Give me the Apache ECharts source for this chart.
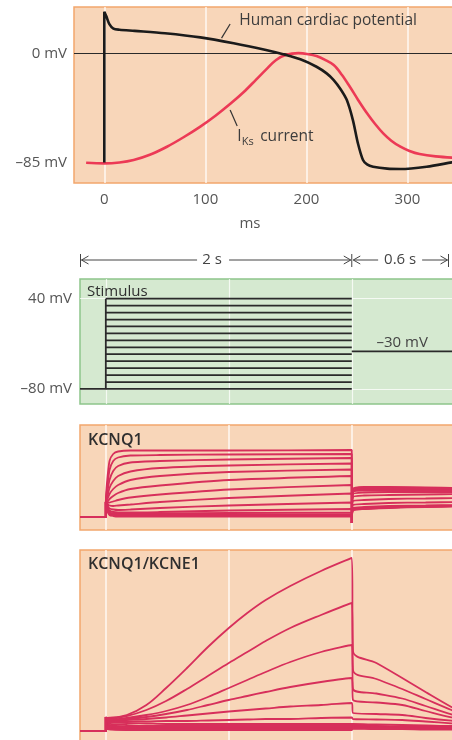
<!DOCTYPE html>
<html>
<head>
<meta charset="utf-8">
<script src="https://cdn.jsdelivr.net/npm/echarts@6/dist/echarts.min.js"></script>
<style>
html,body{margin:0;padding:0;background:#fff}
#chart{width:452px;height:740px}
</style>
</head>
<body>
<div id="chart"></div>
<script>
// ---- Panel A: human ventricular action potential and I_Ks (ms, mV) ----
const apMs = [0, 0, 2, 5, 9, 15, 30, 60, 95, 128, 160, 177, 194, 210, 220, 227, 234, 240, 246, 251, 256, 260, 266, 280, 293, 319, 344, 351];
const apMv = [-85, 32.6, 29, 23, 19.5, 18.6, 17.7, 15.8, 12.6, 8, 2.7, -0.6, -4.5, -10.3, -15.5, -20.7, -28, -36.3, -51.9, -70.1, -83.1, -86.5, -88.3, -89.8, -90.1, -88.3, -84.9, -84];
const iksMs = [-18, 0, 15, 29, 45, 62, 78, 95, 110, 125, 138, 150, 160, 170, 180, 192, 202, 210, 218, 227, 235, 243, 251, 260, 268, 276, 284, 293, 302, 312, 328, 351];
const iksMv = [-85.2, -85.7, -85, -83.1, -79, -72.7, -65.5, -57, -48.5, -39, -30, -20.5, -12.5, -5, -1, 0.3, -0.5, -2, -4.8, -9, -16.5, -25.9, -36, -46.6, -55, -62.3, -68, -72.7, -76, -78.4, -80.2, -81.5];
const msTicks = [0, 100, 200, 300];
const mvTicks = [0, -85];

// ---- Panel B: voltage-clamp protocol (s, mV) ----
const stepStart = 0;
const stepEnd = 2;
const restMv = -80;
const holdMv = -30;
const stepLevels = [40, 30.8, 21.5, 12.3, 3.1, -6.2, -15.4, -24.6, -33.8, -43.1, -52.3, -61.5, -70.8, -80];
const stimTicks = [40, -80];
const timeGrid = [0, 1, 2];

// ---- Panel C: KCNQ1 currents (arbitrary units) ----
const q1StepT = [0.01, 0.03, 0.06, 0.1, 0.2, 0.44, 1.0, 2.0];
const q1Step = [
  [35, 56, 63, 65.5, 66.5, 66.5, 66.5, 67],
  [28, 47, 56, 59.5, 61.5, 62, 62.5, 63],
  [23, 37, 46, 51, 54.5, 56, 57.5, 59],
  [19, 29, 36, 41, 45.5, 49, 51.5, 53.5],
  [17, 23, 28, 32, 37, 41, 45, 47.5],
  [15, 18, 21, 24, 28, 31.5, 37, 41],
  [14, 14.5, 15.5, 17, 19.5, 22.5, 27.5, 32],
  [13, 11.5, 11, 11.5, 12.5, 15, 19, 23.5],
  [12, 8.5, 7.5, 7, 7.5, 9, 11.5, 14.5],
  [11, 6.5, 5, 4.5, 4.5, 5, 6.5, 8],
  [10, 5, 3.5, 3, 3, 3.5, 4, 4.5],
  [9, 4, 3, 2.5, 2.5, 2.5, 2.5, 2.5],
  [8, 3, 2, 1.5, 1.5, 1.5, 1.5, 1.5],
  [7, 2, 1, 0.5, 0.5, 0.5, 0.5, 0.5]
];
const q1TailT = [2.01, 2.1, 2.3, 2.6, 2.88];
const q1Tail = [
  [28, 30, 30, 29.5, 29],
  [27.5, 29.5, 29.5, 29, 28.5],
  [27, 29, 29, 28.5, 28],
  [26, 27.5, 27.5, 27, 27],
  [25, 26.5, 26.5, 26.5, 26],
  [23, 24.5, 25, 25, 25],
  [20, 21.5, 22, 22.5, 23],
  [16, 17, 18, 18.5, 19],
  [12, 13, 14, 14.5, 15],
  [9, 10, 11, 11.5, 12],
  [8, 9, 10, 11, 11.5],
  [7, 8.5, 9.5, 10.5, 11],
  [7, 8, 9.5, 10.5, 11],
  [6.5, 8, 9, 10, 10.5]
];
const q1OnsetSpike = 15;
const q1OffsetSpike = -6;

// ---- Panel D: KCNQ1/KCNE1 currents (arbitrary units) ----
const e1StepT = [0.01, 0.17, 0.33, 0.49, 0.66, 0.83, 1.0, 1.15, 1.3, 1.5, 1.75, 2.0];
const e1Step = [
  [13, 16, 26, 43, 63, 84, 103, 118, 131, 145, 160, 173],
  [12, 15, 21, 30, 42, 55, 68, 79, 90, 103, 116, 128],
  [11, 13, 16, 20, 26, 34, 43, 51, 59, 69, 79, 86],
  [11, 12, 14, 17, 21, 26, 31, 35, 39, 44, 49, 53],
  [10, 11, 12, 13.5, 15.5, 17.5, 19.5, 21, 22.5, 24.5, 26, 28],
  [9.5, 9.5, 9.5, 10, 10, 10.5, 11, 11.5, 12, 12, 13, 13.5],
  [9, 8, 7.5, 7, 7, 7, 7, 7, 7, 7, 7, 7],
  [8, 6, 5, 5, 5, 5, 5, 5, 5, 5, 5, 5],
  [7, 4.5, 4, 4, 4, 4, 4, 4, 4, 4, 4, 4],
  [6, 3.5, 3, 3, 3, 3, 3, 3, 3, 3, 3, 3],
  [5, 3, 2.5, 2.5, 2.5, 2.5, 2.5, 2.5, 2.5, 2.5, 2.5, 2.5],
  [4, 2, 2, 2, 2, 2, 2, 2, 2, 2, 2, 2],
  [3, 1.5, 1.5, 1.5, 1.5, 1.5, 1.5, 1.5, 1.5, 1.5, 1.5, 1.5],
  [2, 1, 1, 1, 1, 1, 1, 1, 1, 1, 1, 1]
];
const e1TailT = [2.01, 2.2, 2.41, 2.6, 2.81, 2.88];
const e1Tail = [
  [80, 68, 53, 39, 24, 20],
  [61, 52, 42, 32, 21, 18],
  [42, 37.5, 32.5, 25, 16.7, 15],
  [31, 28.5, 26, 20, 13.7, 12.8],
  [18, 17, 16, 13, 10.3, 9.8],
  [12, 11.5, 11, 9.5, 7.7, 7.3],
  [7, 6.5, 6, 5.5, 5, 5],
  [5.5, 5, 4.5, 4.5, 4, 4],
  [5, 4.5, 4, 4, 3.5, 3.5],
  [4.5, 4, 3.5, 3.5, 3, 3],
  [4, 3.5, 3, 3, 3, 3],
  [3.5, 3, 3, 2.5, 2.5, 2.5],
  [3, 2.5, 2.5, 2, 2, 2],
  [2.5, 2, 2, 1.5, 1.5, 1.5]
];
const e1OnsetSpike = 14;

// ---- styling ----
const FONT = 'Open Sans';
const PEACH = '#F8D6B9';
const ORANGE = '#F2A66C';
const GREEN_BG = '#D5E9D0';
const GREEN_EDGE = '#8DC58B';
const TRACE = '#D72F5B';
const GRIDLINE = 'rgba(255,255,255,0.85)';
const T_MIN = -0.21, T_MAX = 2.88;

const chart = echarts.init(document.getElementById('chart'), null, {renderer: 'canvas'});

const mvFmt = v => (v < 0 ? '\u2013' + Math.abs(v) : String(v)) + ' mV';

// reference lines drawn underneath the traces
function gridLines(xs, ys, color, width, gi) {
  const data = [];
  xs.forEach(v => data.push({xAxis: v, lineStyle: {color: color, width: width}}));
  ys.forEach(v => data.push(v));
  return {
    type: 'line', xAxisIndex: gi, yAxisIndex: gi, data: [], z: 1, silent: true,
    markLine: {z: 1, silent: true, symbol: ['none', 'none'], animation: false, label: {show: false},
      lineStyle: {type: 'solid', color: color, width: width}, data: data}
  };
}

function zip(ts, vs) { return ts.map((t, i) => [t, vs[i]]); }

const series = [];

// Panel A
series.push(gridLines(msTicks, [{yAxis: 0, lineStyle: {color: '#2a2a2a', width: 1}}], GRIDLINE, 1.5, 0));
series.push({type: 'line', xAxisIndex: 0, yAxisIndex: 0, data: zip(iksMs, iksMv), showSymbol: false,
  smooth: 0.35, lineStyle: {color: '#EC3A56', width: 2.6}, z: 3});
series.push({type: 'line', xAxisIndex: 0, yAxisIndex: 0, data: zip(apMs, apMv), showSymbol: false,
  smooth: 0.3, lineStyle: {color: '#1b1b1b', width: 2.6}, z: 4});

// Panel B
series.push(gridLines(timeGrid, stimTicks.map(v => ({yAxis: v})), 'rgba(255,255,255,0.75)', 1.2, 1));
series.push({type: 'line', xAxisIndex: 1, yAxisIndex: 1, showSymbol: false, z: 3,
  data: [[T_MIN, restMv], [stepStart, restMv], [stepStart, stepLevels[0]]],
  lineStyle: {color: '#2a2a2a', width: 1.8}});
stepLevels.forEach(lv => series.push({type: 'line', xAxisIndex: 1, yAxisIndex: 1, showSymbol: false, z: 3,
  data: [[stepStart, lv], [stepEnd, lv]], lineStyle: {color: '#2a2a2a', width: 1.8}}));
series.push({type: 'line', xAxisIndex: 1, yAxisIndex: 1, showSymbol: false, z: 3,
  data: [[stepEnd, holdMv], [T_MAX, holdMv]], lineStyle: {color: '#2a2a2a', width: 1.8}});

// Panel C
series.push(gridLines(timeGrid, [], GRIDLINE, 1.5, 2));
q1Step.forEach((tr, k) => {
  const d = [[T_MIN, 0], [stepStart, 0], [stepStart, q1OnsetSpike]]
    .concat(zip(q1StepT, tr))
    .concat([[stepEnd, q1OffsetSpike]])
    .concat(zip(q1TailT, q1Tail[k]));
  series.push({type: 'line', xAxisIndex: 2, yAxisIndex: 2, data: d, showSymbol: false, smooth: 0.2,
    lineStyle: {color: TRACE, width: 1.8}, z: 3});
});

// Panel D
series.push(gridLines(timeGrid, [], GRIDLINE, 1.5, 3));
e1Step.forEach((tr, k) => {
  const d = [[T_MIN, 0], [stepStart, 0], [stepStart, e1OnsetSpike]]
    .concat(zip(e1StepT, tr))
    .concat(zip(e1TailT, e1Tail[k]));
  series.push({type: 'line', xAxisIndex: 3, yAxisIndex: 3, data: d, showSymbol: false, smooth: 0.35,
    lineStyle: {color: TRACE, width: 1.8}, z: 3});
});

const hidden = {axisLine: {show: false}, axisTick: {show: false}, splitLine: {show: false}};
const labelStyle = {fontFamily: FONT, fontSize: 15, color: '#555'};
const panel = (left, top, width, height, bg, edge) => ({left: left, top: top, width: width, height: height,
  outerBoundsMode: 'none', show: true, backgroundColor: bg, borderColor: edge, borderWidth: 1.5});

chart.setOption({
  animation: false,
  grid: [
    panel(74, 7, 385, 176, PEACH, ORANGE),
    panel(80, 279, 380, 125, GREEN_BG, GREEN_EDGE),
    panel(80, 425, 380, 105, PEACH, ORANGE),
    panel(80, 550, 380, 195, PEACH, ORANGE)
  ],
  xAxis: [
    Object.assign({type: 'value', gridIndex: 0, min: -30, max: 351,
      axisLabel: Object.assign({customValues: msTicks, margin: 9}, labelStyle),
      name: 'ms', nameLocation: 'middle', nameGap: 33,
      nameTextStyle: Object.assign({padding: [0, 33, 0, 0]}, labelStyle)}, hidden),
    Object.assign({type: 'value', gridIndex: 1, min: T_MIN, max: T_MAX, axisLabel: {show: false}}, hidden),
    Object.assign({type: 'value', gridIndex: 2, min: T_MIN, max: T_MAX, axisLabel: {show: false}}, hidden),
    Object.assign({type: 'value', gridIndex: 3, min: T_MIN, max: T_MAX, axisLabel: {show: false}}, hidden)
  ],
  yAxis: [
    Object.assign({type: 'value', gridIndex: 0, min: -101, max: 36.3,
      axisLabel: Object.assign({customValues: mvTicks, margin: 7, formatter: mvFmt}, labelStyle)}, hidden),
    Object.assign({type: 'value', gridIndex: 1, min: -100, max: 66.2,
      axisLabel: Object.assign({customValues: stimTicks, margin: 8, formatter: mvFmt}, labelStyle)}, hidden),
    Object.assign({type: 'value', gridIndex: 2, min: -13, max: 92, axisLabel: {show: false}}, hidden),
    Object.assign({type: 'value', gridIndex: 3, min: -14, max: 181, axisLabel: {show: false}}, hidden)
  ],
  series: series
});

// ---- annotations ----
const P = (g, pt) => chart.convertToPixel({gridIndex: g}, pt);
const X1 = t => chart.convertToPixel({xAxisIndex: 1}, t);
const ink = '#3c3c3c';
const txt = (x, y, s, o) => ({type: 'text', x: x, y: y, z: 50,
  style: Object.assign({text: s, fill: ink, fontFamily: FONT, fontSize: 15, textVerticalAlign: 'middle'}, o || {})});
const seg = (x1, y1, x2, y2, c, w) => ({type: 'line', z: 50, shape: {x1: x1, y1: y1, x2: x2, y2: y2},
  style: {stroke: c || '#444', lineWidth: w || 1}});
const head = (x, y, dir) => ({type: 'polyline', z: 50,
  shape: {points: [[x - 7 * dir, y - 4], [x, y], [x - 7 * dir, y + 4]]}, style: {stroke: '#444', lineWidth: 1, fill: null}});

const g = [];
// callouts in panel A
const a1 = P(0, [116, 12]), a2 = P(0, [124.5, 23]);
const hp = P(0, [133.5, 26]);
g.push(seg(a1[0], a1[1], a2[0], a2[1], '#333', 1.2));
g.push(txt(hp[0], hp[1], 'Human cardiac potential', {fontSize: 15.5}));
const b1 = P(0, [124.5, -44]), b2 = P(0, [131.5, -56.5]);
const ip = P(0, [131.5, -65]);
g.push(seg(b1[0], b1[1], b2[0], b2[1], '#333', 1.2));
g.push(txt(ip[0], ip[1], 'I', {fontSize: 15.5}));
g.push(txt(ip[0] + 4.5, ip[1] + 5, 'Ks', {fontSize: 11}));
g.push(txt(ip[0] + 23, ip[1], 'current', {fontSize: 15.5}));

// duration brackets above panel B
const yA = 260;
const xa = X1(T_MIN) + 0.5, xb = X1(stepEnd), xc = 448.5;
const c2 = xa + 0.485 * (xb - xa);
const c06 = (xb + xc) / 2;
[xa, xb, xc].forEach(x => g.push(seg(x, yA - 6, x, yA + 7, '#444', 1)));
g.push(head(xa + 1, yA, -1));
g.push(seg(xa + 1, yA, c2 - 15, yA));
g.push(seg(c2 + 17, yA, xb - 1, yA));
g.push(head(xb - 1, yA, 1));
g.push(head(xb + 1.5, yA, -1));
g.push(seg(xb + 1.5, yA, c06 - 22, yA));
g.push(seg(c06 + 22, yA, xc - 1, yA));
g.push(head(xc - 1, yA, 1));
g.push(txt(c2, yA, '2 s', {textAlign: 'center', fill: '#444'}));
g.push(txt(c06, yA, '0.6 s', {textAlign: 'center', fill: '#444'}));

// panel titles and hold-level tag
g.push(txt(87, 292, 'Stimulus', {fill: '#2f2f2f', fontWeight: 500}));
const hl = P(1, [2.41, holdMv]);
g.push(txt(hl[0], hl[1] - 9, '\u201330 mV', {textAlign: 'center', fill: '#444'}));
g.push(txt(88, 440, 'KCNQ1', {fill: '#2f2f2f', fontWeight: 600, fontSize: 16}));
g.push(txt(88, 564, 'KCNQ1/KCNE1', {fill: '#2f2f2f', fontWeight: 600, fontSize: 16}));

chart.setOption({graphic: {elements: g}});
</script>
</body>
</html>
